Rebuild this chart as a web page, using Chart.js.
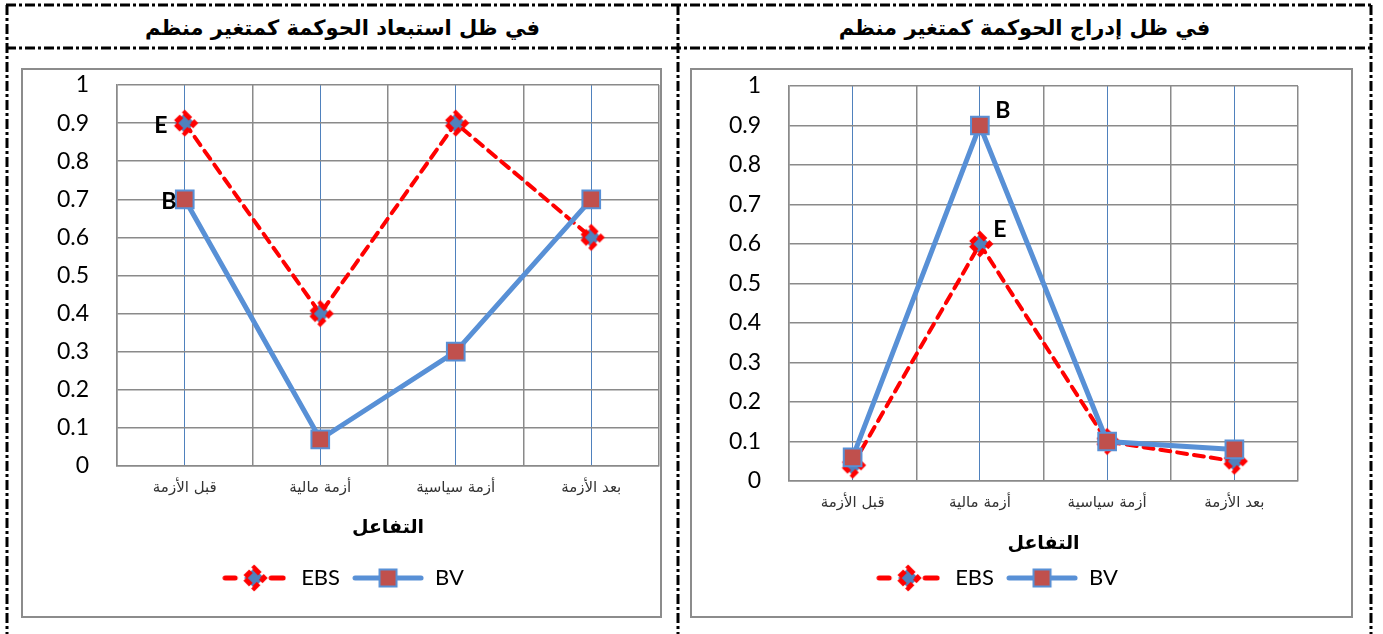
<!DOCTYPE html>
<html>
<head>
<meta charset="utf-8">
<script src="https://cdn.jsdelivr.net/npm/chart.js@4.4.1/dist/chart.umd.min.js"></script>
<style>
  body { margin: 0; background: #fff; width: 1383px; height: 634px; position: relative; overflow: hidden; font-family: "DejaVu Sans", sans-serif; }
  .frame { position: absolute; left: 0; top: 0; }
  .title { position: absolute; top: 12px; height: 32px; line-height: 32px; text-align: center; font-weight: bold; font-size: 21px; direction: rtl; color: #000; }
  .box { position: absolute; top: 68px; height: 550px; box-sizing: border-box; border: 2px solid #8c8c8c; background: #fff; }
  .box canvas { display: block; }
</style>
</head>
<body>
<svg class="frame" width="1383" height="634">
  <g stroke="#000" stroke-width="3" stroke-dasharray="10 3 3 3" fill="none">
    <line x1="6" y1="5" x2="1372" y2="5"/>
    <line x1="6" y1="48" x2="1372" y2="48"/>
    <line x1="7" y1="5" x2="7" y2="634"/>
    <line x1="678" y1="5" x2="678" y2="634"/>
    <line x1="1371" y1="5" x2="1371" y2="634"/>
  </g>
</svg>
<div class="title" style="left:7px;width:671px">في ظل استبعاد الحوكمة كمتغير منظم</div>
<div class="title" style="left:678px;width:693px">في ظل إدراج الحوكمة كمتغير منظم</div>
<div class="box" style="left:21px;width:641px"><canvas id="without" width="637" height="546"></canvas></div>
<div class="box" style="left:690px;width:663px"><canvas id="with" width="659" height="546"></canvas></div>

<script>
const categories = ['قبل الأزمة', 'أزمة مالية', 'أزمة سياسية', 'بعد الأزمة'];
const yTicks = ['0', '0.1', '0.2', '0.3', '0.4', '0.5', '0.6', '0.7', '0.8', '0.9', '1'];
const axisTitle = 'التفاعل';

// governance excluded
const ebsWithout = [0.9, 0.4, 0.9, 0.6];
const bvWithout = [0.7, 0.07, 0.3, 0.7];

// governance included
const ebsWith = [0.04, 0.6, 0.1, 0.05];
const bvWith = [0.06, 0.9, 0.1, 0.08];

const RED = '#FF0000';
const BLUE = '#5890D6';
const MARK = '#C0504D';
const GRID = '#8a8a8a';

function ebsMarker() {
  const c = document.createElement('canvas');
  c.width = 30; c.height = 30;
  const g = c.getContext('2d');
  g.translate(15, 15);
  g.beginPath();
  g.moveTo(0, -10); g.lineTo(10, 0); g.lineTo(0, 10); g.lineTo(-10, 0); g.closePath();
  g.fillStyle = '#4F81BD';
  g.fill();
  g.setLineDash([8, 3]);
  g.lineWidth = 5;
  g.strokeStyle = RED;
  g.stroke();
  return c;
}

const ebsPoint = ebsMarker();

function ebsLegendIcon() {
  const c = document.createElement('canvas');
  c.width = 64; c.height = 30;
  const g = c.getContext('2d');
  g.strokeStyle = RED;
  g.lineWidth = 5;
  g.lineCap = 'round';
  g.beginPath();
  g.moveTo(3, 15); g.lineTo(13, 15);
  g.moveTo(49, 15); g.lineTo(61, 15);
  g.stroke();
  g.drawImage(ebsPoint, 17, 0);
  return c;
}

function bvLegendIcon() {
  const c = document.createElement('canvas');
  c.width = 72; c.height = 30;
  const g = c.getContext('2d');
  g.strokeStyle = BLUE;
  g.lineWidth = 5;
  g.lineCap = 'round';
  g.beginPath();
  g.moveTo(3, 15); g.lineTo(69, 15);
  g.stroke();
  g.fillStyle = MARK;
  g.fillRect(27.5, 6.5, 17, 17);
  g.lineWidth = 2;
  g.strokeRect(27.5, 6.5, 17, 17);
  return c;
}

const legendIcons = [ebsLegendIcon(), bvLegendIcon()];

// letters written beside chosen points
const pointTags = {
  id: 'pointTags',
  afterDatasetsDraw(chart, args, opts) {
    const ctx = chart.ctx;
    ctx.save();
    ctx.font = 'bold 23px Lato';
    ctx.fillStyle = '#000';
    ctx.textAlign = 'center';
    ctx.textBaseline = 'middle';
    (opts.tags || []).forEach(t => {
      const el = chart.getDatasetMeta(t.dataset).data[t.index];
      ctx.fillText(t.text, el.x + t.dx, el.y + t.dy);
    });
    ctx.restore();
  }
};

function makeChart(id, ebs, bv, lay) {
  return new Chart(document.getElementById(id), {
    type: 'line',
    data: {
      labels: categories,
      datasets: [
        {
          label: 'EBS',
          data: ebs,
          order: 1,
          borderColor: RED,
          borderWidth: 4,
          borderDash: [10, 7],
          borderCapStyle: 'round',
          pointStyle: ebsPoint,
          pointRadius: 12,
          clip: false,
        },
        {
          label: 'BV',
          data: bv,
          order: 0,
          borderColor: BLUE,
          borderWidth: 5,
          pointStyle: 'rect',
          pointRadius: 12.5,
          pointBackgroundColor: MARK,
          pointBorderColor: BLUE,
          pointBorderWidth: 2,
          clip: false,
        },
      ],
    },
    options: {
      responsive: false,
      animation: false,
      layout: {
        autoPadding: false,
        padding: { top: lay.top, right: lay.right, bottom: 17, left: 0 },
      },
      scales: {
        x: {
          offset: true,
          grid: { offset: true, color: GRID, lineWidth: 1.5, drawTicks: false },
          border: { color: GRID, width: 1.5 },
          ticks: { padding: 13, color: '#333', font: { family: 'DejaVu Sans', size: 15 } },
          title: {
            display: true,
            text: axisTitle,
            color: '#000',
            font: { family: 'DejaVu Sans', size: 19, weight: 'bold' },
            padding: { top: 0, bottom: lay.titlePad },
          },
          afterFit: s => {
            s.height = lay.xHeight;
            s.paddingLeft = 0;
            s.paddingRight = 0;
          },
        },
        centers: {
          type: 'category',
          position: 'bottom',
          offset: true,
          grid: { offset: false, color: '#4F81BD', lineWidth: 1, drawTicks: false },
          border: { display: false },
          ticks: { display: false },
          afterFit: s => {
            s.height = 0;
            s.paddingLeft = 0;
            s.paddingRight = 0;
          },
        },
        y: {
          min: 0,
          max: 1,
          ticks: {
            stepSize: 0.1,
            padding: 28,
            color: '#000',
            font: { family: 'Lato', size: 23 },
            callback: (v, i) => yTicks[i],
          },
          grid: { color: GRID, lineWidth: 1.5, drawTicks: false },
          border: { color: GRID, width: 1.5 },
          afterFit: s => {
            s.width = lay.yWidth;
            s.paddingTop = 0;
            s.paddingBottom = 0;
          },
        },
      },
      plugins: {
        tooltip: { enabled: false },
        legend: {
          position: 'bottom',
          labels: {
            usePointStyle: true,
            pointStyleWidth: 72,
            padding: 12,
            color: '#000',
            font: { family: 'Lato', size: 22 },
            generateLabels: chart => chart.data.datasets.map((ds, i) => ({
              text: ds.label,
              pointStyle: legendIcons[i],
              datasetIndex: i,
              lineWidth: 0,
              fontColor: '#000',
              hidden: false,
            })),
          },
        },
        pointTags: { tags: lay.tags },
      },
    },
    plugins: [pointTags],
  });
}

makeChart('without', ebsWithout, bvWithout, {
  top: 15, right: 1, yWidth: 94, xHeight: 89, titlePad: 16,
  tags: [
    { dataset: 0, index: 0, text: 'E', dx: -24, dy: 2 },
    { dataset: 1, index: 0, text: 'B', dx: -16, dy: 2 },
  ],
});

makeChart('with', ebsWith, bvWith, {
  top: 16, right: 53, yWidth: 97, xHeight: 74, titlePad: 0,
  tags: [
    { dataset: 1, index: 1, text: 'B', dx: 23, dy: -15 },
    { dataset: 0, index: 1, text: 'E', dx: 20, dy: -14 },
  ],
});
</script>
</body>
</html>
